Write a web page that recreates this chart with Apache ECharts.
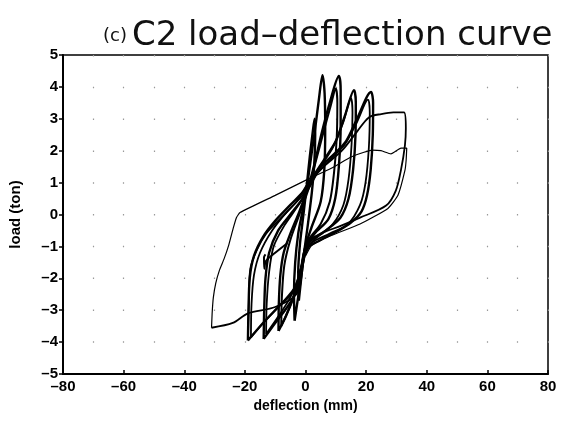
<!DOCTYPE html>
<html>
<head>
    <meta charset="utf-8">
    <title>C2 load-deflection curve</title>
    <script src="https://cdn.jsdelivr.net/npm/echarts@6/dist/echarts.min.js"></script>
    <style>
        body { margin: 0; background: #fff; }
        #chart { width: 573px; height: 422px; }
    </style>
</head>
<body>
<div id="chart"></div>
<script>
    // axis ticks
    var xTicks = [-80, -60, -40, -20, 0, 20, 40, 60, 80];
    var yTicks = [-5, -4, -3, -2, -1, 0, 1, 2, 3, 4, 5];

    // cycles: [deflection (mm), load (ton)]
    var cycle1 = [[-2.2,-2.7],[-2.4,-1.8],[-1.8,-0.9],[-0.8,-0.1],[0.4,0.9],[1.4,1.8],[2.4,2.6],[3.0,3.0],[3.2,2.5],[2.9,1.6],[2.1,0.7],[0.8,-0.3],[-0.6,-1.3],[-2.2,-2.7]];
    var cycle2 = [[-3.6,-3.33],[-3.8,-2.5],[-3.4,-1.5],[-2.4,-0.6],[-1,0.1],[0.5,0.9],[2,1.9],[3.2,2.7],[4.4,3.6],[5.6,4.37],[6.3,3.8],[6.5,2.7],[6.2,1.4],[5,0.4],[2,-0.4],[0,-1.0],[-1.5,-2.0],[-3.6,-3.33]];
    var cycle3 = [[-8.9,-3.65],[-8.8,-2.8],[-8.3,-1.9],[-7.2,-1.2],[-5,-0.6],[-2,0.1],[1,0.9],[3,1.6],[5.2,2.5],[8,3.5],[11,4.34],[11.6,3.9],[11.6,2.8],[11,1.5],[9.8,0.5],[7.5,-0.15],[3,-0.6],[0,-1.1],[-1.5,-1.8],[-4,-2.6],[-6.5,-3.2],[-8.9,-3.65]];
    var cycle3b = [[-8,-3.5],[-7.8,-2.6],[-7,-1.6],[-5,-0.8],[-2,0],[1,0.8],[3.5,1.7],[6,2.6],[8.3,3.4],[10,3.95],[10.5,3.5],[10.3,2.4],[9.4,1.3],[8,0.4],[5,-0.3],[1,-0.8],[-1.2,-1.6],[-4,-2.6],[-8,-3.5]];
    var cycle4 = [[-13.8,-3.9],[-13.6,-2.9],[-13.2,-2.0],[-12,-1.2],[-9,-0.5],[-5,0],[-1,0.5],[2,1.1],[6,1.7],[10,2.3],[13,3.1],[16,3.9],[16.6,3.5],[16.5,2.5],[15.7,1.4],[14.2,0.5],[11.5,-0.1],[6,-0.55],[1,-0.9],[-1,-1.6],[-3,-2.4],[-6,-2.9],[-10,-3.4],[-13.8,-3.9]];
    var cycle4b = [[-13,-3.75],[-12.8,-2.8],[-12,-1.8],[-10.5,-1.0],[-7,-0.35],[-3,0.2],[1,0.8],[5,1.5],[9,2.1],[12.5,2.9],[15,3.65],[15.5,3.2],[15.2,2.2],[14.2,1.1],[12.5,0.3],[9,-0.3],[4,-0.7],[0,-1.1],[-2,-1.9],[-5,-2.6],[-9,-3.2],[-13,-3.75]];
    var cycle5 = [[-19,-3.95],[-18.8,-3.0],[-18.4,-2.0],[-17,-1.3],[-14,-0.7],[-10,-0.2],[-5,0.3],[0,0.8],[5,1.5],[9.5,1.9],[13.4,2.3],[17,3.0],[21.6,3.84],[22.3,3.5],[22.2,2.5],[21.5,1.4],[20.3,0.6],[18.5,0.1],[15,-0.25],[10,-0.55],[5,-0.8],[0,-1.1],[-1.5,-1.7],[-4,-2.4],[-9,-2.9],[-14,-3.4],[-19,-3.95]];
    var cycle5b = [[-18,-3.85],[-17.8,-2.8],[-17,-1.9],[-15,-1.2],[-11,-0.5],[-6,0.1],[-1,0.6],[4,1.3],[9,1.8],[13,2.2],[17,2.9],[20.6,3.6],[21.2,3.2],[20.9,2.1],[19.8,1.0],[18,0.3],[14,-0.3],[8,-0.6],[2,-0.9],[-1,-1.5],[-3,-2.2],[-8,-2.8],[-13,-3.3],[-18,-3.85]];
    var cycle6 = [[-19,-3.9],[-18.7,-2.8],[-18.2,-1.7],[-16,-1.1],[-13,-0.6],[-8,-0.1],[-3,0.4],[1,1.0],[6,1.5],[12,2.0],[17,2.6],[21,3.05],[25,3.15],[29,3.2],[32.5,3.2],[33.1,2.7],[32.8,2.17],[31.5,1.4],[29.8,0.75],[26.6,0.28],[18,-0.1],[11.8,-0.35],[5,-0.6],[0.3,-0.9],[-1.5,-1.8],[-3,-2.5],[-10,-2.9],[-19,-3.1],[-24,-3.4],[-31,-3.55]];
    var cycle7 = [[-31,-3.55],[-30.8,-3.1],[-30.4,-2.6],[-29.6,-2.15],[-28.4,-1.75],[-26.9,-1.4],[-25.3,-0.95],[-23.9,-0.45],[-22.8,-0.1],[-21.6,0.06],[-10,0.6],[0,1.07],[8.5,1.45],[15,1.8],[19.3,1.95],[22,2.02],[24.9,2.0],[28.2,1.9],[31.5,2.08],[33.4,2.08],[33.2,1.7],[32.8,1.38],[30.5,0.6],[27.2,0.19],[18,-0.3],[8.5,-0.66],[2,-0.97],[0,-1.3]];
    var hook = [[-6,-0.9],[-10,-1.2],[-13,-1.45],[-13.6,-1.7],[-13.7,-1.35],[-13.2,-1.25]];

    function dash(v) {
        return String(v).replace('-', '\u2013');
    }

    function loop(data, width, smooth) {
        return {
            type: 'line',
            data: data,
            showSymbol: false,
            smooth: smooth,
            silent: true,
            lineStyle: { color: '#000', width: width }
        };
    }

    var myChart = echarts.init(document.getElementById('chart'));
    var option = {
        animation: false,
        backgroundColor: '#fff',
        title: {
            text: '{s|(c)} {b|C2 load\u2013deflection curve}',
            left: 98,
            top: 14,
            textStyle: {
                rich: {
                    s: { fontFamily: 'DejaVu Sans', fontWeight: 'normal', fontSize: 18, color: '#111' },
                    b: { fontFamily: 'DejaVu Sans', fontWeight: 'normal', fontSize: 34, color: '#111' }
                }
            }
        },
        grid: {
            left: 60, right: 25, top: 55, bottom: 48,
            show: true, borderColor: '#000', borderWidth: 1.5
        },
        xAxis: {
            type: 'value',
            min: xTicks[0],
            max: xTicks[xTicks.length - 1],
            interval: 20,
            name: 'deflection (mm)',
            nameLocation: 'middle',
            nameGap: 23,
            nameTextStyle: { fontFamily: 'Liberation Sans', fontWeight: 'bold', fontSize: 14, color: '#000' },
            axisLine: { onZero: false, lineStyle: { color: '#000', width: 2 } },
            axisTick: { inside: true, length: 4, lineStyle: { color: '#000', width: 1.5 } },
            axisLabel: { formatter: dash, fontFamily: 'Liberation Sans', fontWeight: 'bold', fontSize: 15, color: '#000', margin: 5 },
            splitLine: { show: true, lineStyle: { color: '#999', width: 1.2, type: [1.5, 30.3] } },
            minorTick: { show: false, splitNumber: 2 },
            minorSplitLine: { show: true, lineStyle: { color: '#999', width: 1.2, type: [1.5, 30.3] } }
        },
        yAxis: {
            type: 'value',
            min: yTicks[0],
            max: yTicks[yTicks.length - 1],
            interval: 1,
            name: 'load (ton)',
            nameLocation: 'middle',
            nameGap: 40,
            nameTextStyle: { fontFamily: 'Liberation Sans', fontWeight: 'bold', fontSize: 15, color: '#000' },
            axisLine: { onZero: false, lineStyle: { color: '#000', width: 2 } },
            axisTick: { inside: false, length: 4, lineStyle: { color: '#000', width: 1.5 } },
            axisLabel: { formatter: dash, fontFamily: 'Liberation Sans', fontWeight: 'bold', fontSize: 15, color: '#000', margin: 5 },
            splitLine: { show: false }
        },
        series: [
            loop(cycle1, 2.4, 0.3),
            loop(cycle2, 2.4, 0.3),
            loop(cycle3, 2.4, 0.3),
            loop(cycle3b, 2.0, 0.3),
            loop(cycle4, 2.4, 0.3),
            loop(cycle4b, 1.8, 0.3),
            loop(cycle5, 2.4, 0.3),
            loop(cycle5b, 1.8, 0.3),
            loop(hook, 2.0, 0.3),
            loop(cycle6, 1.8, 0.3),
            loop(cycle7, 1.2, 0.15)
        ]
    };
    myChart.setOption(option);
</script>
</body>
</html>
